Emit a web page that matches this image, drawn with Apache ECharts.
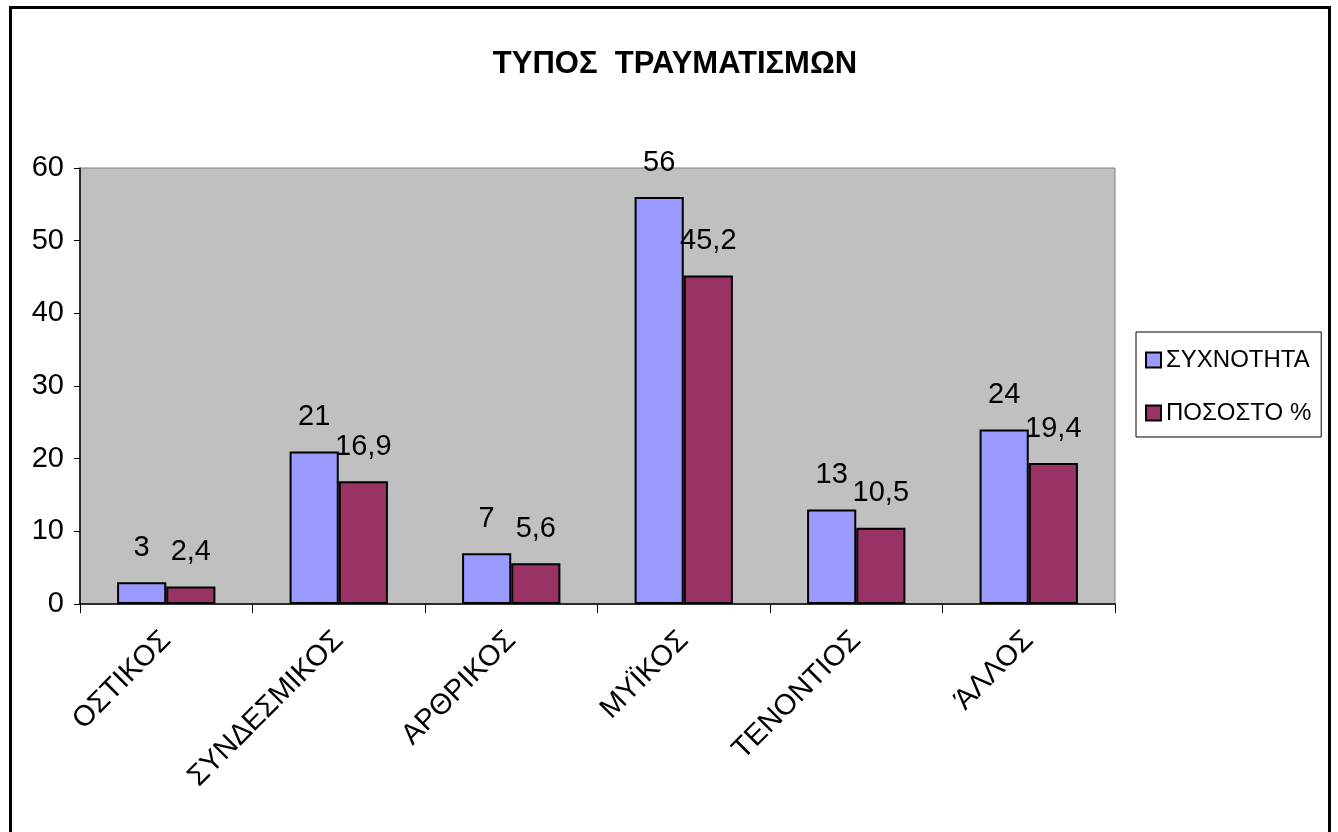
<!DOCTYPE html>
<html>
<head>
<meta charset="utf-8">
<script src="https://cdn.jsdelivr.net/npm/echarts@6/dist/echarts.min.js"></script>
<style>
  html, body { margin: 0; padding: 0; background: #ffffff; }
  #chart { width: 1338px; height: 832px; }
</style>
</head>
<body>
<div id="chart"></div>
<script>
// Injury types: counts and percentages
const categories = ['ΟΣΤΙΚΟΣ', 'ΣΥΝΔΕΣΜΙΚΟΣ', 'ΑΡΘΡΙΚΟΣ', 'ΜΥΪΚΟΣ', 'ΤΕΝΟΝΤΙΟΣ', 'ΆΛΛΟΣ'];
const frequency = [3, 21, 7, 56, 13, 24];
const percent = [2.4, 16.9, 5.6, 45.2, 10.5, 19.4];
const seriesNames = ['ΣΥΧΝΟΤΗΤΑ', 'ΠΟΣΟΣΤΟ %'];
const chartTitle = 'ΤΥΠΟΣ  ΤΡΑΥΜΑΤΙΣΜΩΝ';

const FONT = "'Liberation Sans', Arial, sans-serif";
const chart = echarts.init(document.getElementById('chart'));

const decimalComma = v => String(v).replace('.', ',');

const labelStyle = {
  show: true,
  position: 'top',
  distance: 20,
  fontFamily: FONT,
  fontSize: 29,
  color: '#000',
  formatter: p => decimalComma(p.value)
};

chart.setOption({
  animation: false,
  backgroundColor: '#ffffff',
  textStyle: { fontFamily: FONT },
  title: {
    text: chartTitle,
    left: 670,
    textAlign: 'center',
    top: 44,
    textStyle: { fontFamily: FONT, fontSize: 31, fontWeight: 'bold', color: '#000' }
  },
  graphic: [{
    type: 'rect',
    shape: { x: 10.5, y: 7.5, width: 1319, height: 840 },
    style: { fill: 'none', stroke: '#000', lineWidth: 3 },
    silent: true
  }],
  legend: {
    orient: 'vertical',
    left: 1136,
    top: 332,
    data: seriesNames,
    itemWidth: 15,
    itemHeight: 15,
    itemGap: 29,
    itemTextGap: 8,
    padding: [16, 10, 12, 9],
    borderColor: '#000',
    borderWidth: 1,
    icon: 'rect',
    textStyle: { fontFamily: FONT, fontSize: 24, color: '#000' }
  },
  grid: {
    left: 80,
    right: 223,
    top: 168,
    bottom: 228,
    show: true,
    backgroundColor: '#c0c0c0',
    borderColor: '#808080',
    borderWidth: 1
  },
  xAxis: {
    type: 'category',
    data: categories,
    axisLine: { lineStyle: { color: '#000', width: 1.5 } },
    axisTick: { show: true, length: 9, lineStyle: { color: '#000' } },
    axisLabel: {
      rotate: 45,
      margin: 32,
      fontFamily: FONT,
      fontSize: 29,
      color: '#000',
      interval: 0
    },
    splitLine: { show: false }
  },
  yAxis: {
    type: 'value',
    min: 0,
    max: 60,
    interval: 10,
    axisLine: { show: true, lineStyle: { color: '#000', width: 1.5 } },
    axisTick: { show: true, length: 6, lineStyle: { color: '#000' } },
    axisLabel: { margin: 16, fontFamily: FONT, fontSize: 29, color: '#000' },
    splitLine: { show: false }
  },
  series: [
    {
      name: seriesNames[0],
      type: 'bar',
      data: frequency,
      barGap: '0%',
      barCategoryGap: '43%',
      itemStyle: { color: '#9999ff', borderColor: '#000', borderWidth: 2 },
      label: labelStyle
    },
    {
      name: seriesNames[1],
      type: 'bar',
      data: percent,
      itemStyle: { color: '#993366', borderColor: '#000', borderWidth: 2 },
      label: labelStyle
    }
  ]
});
</script>
</body>
</html>
